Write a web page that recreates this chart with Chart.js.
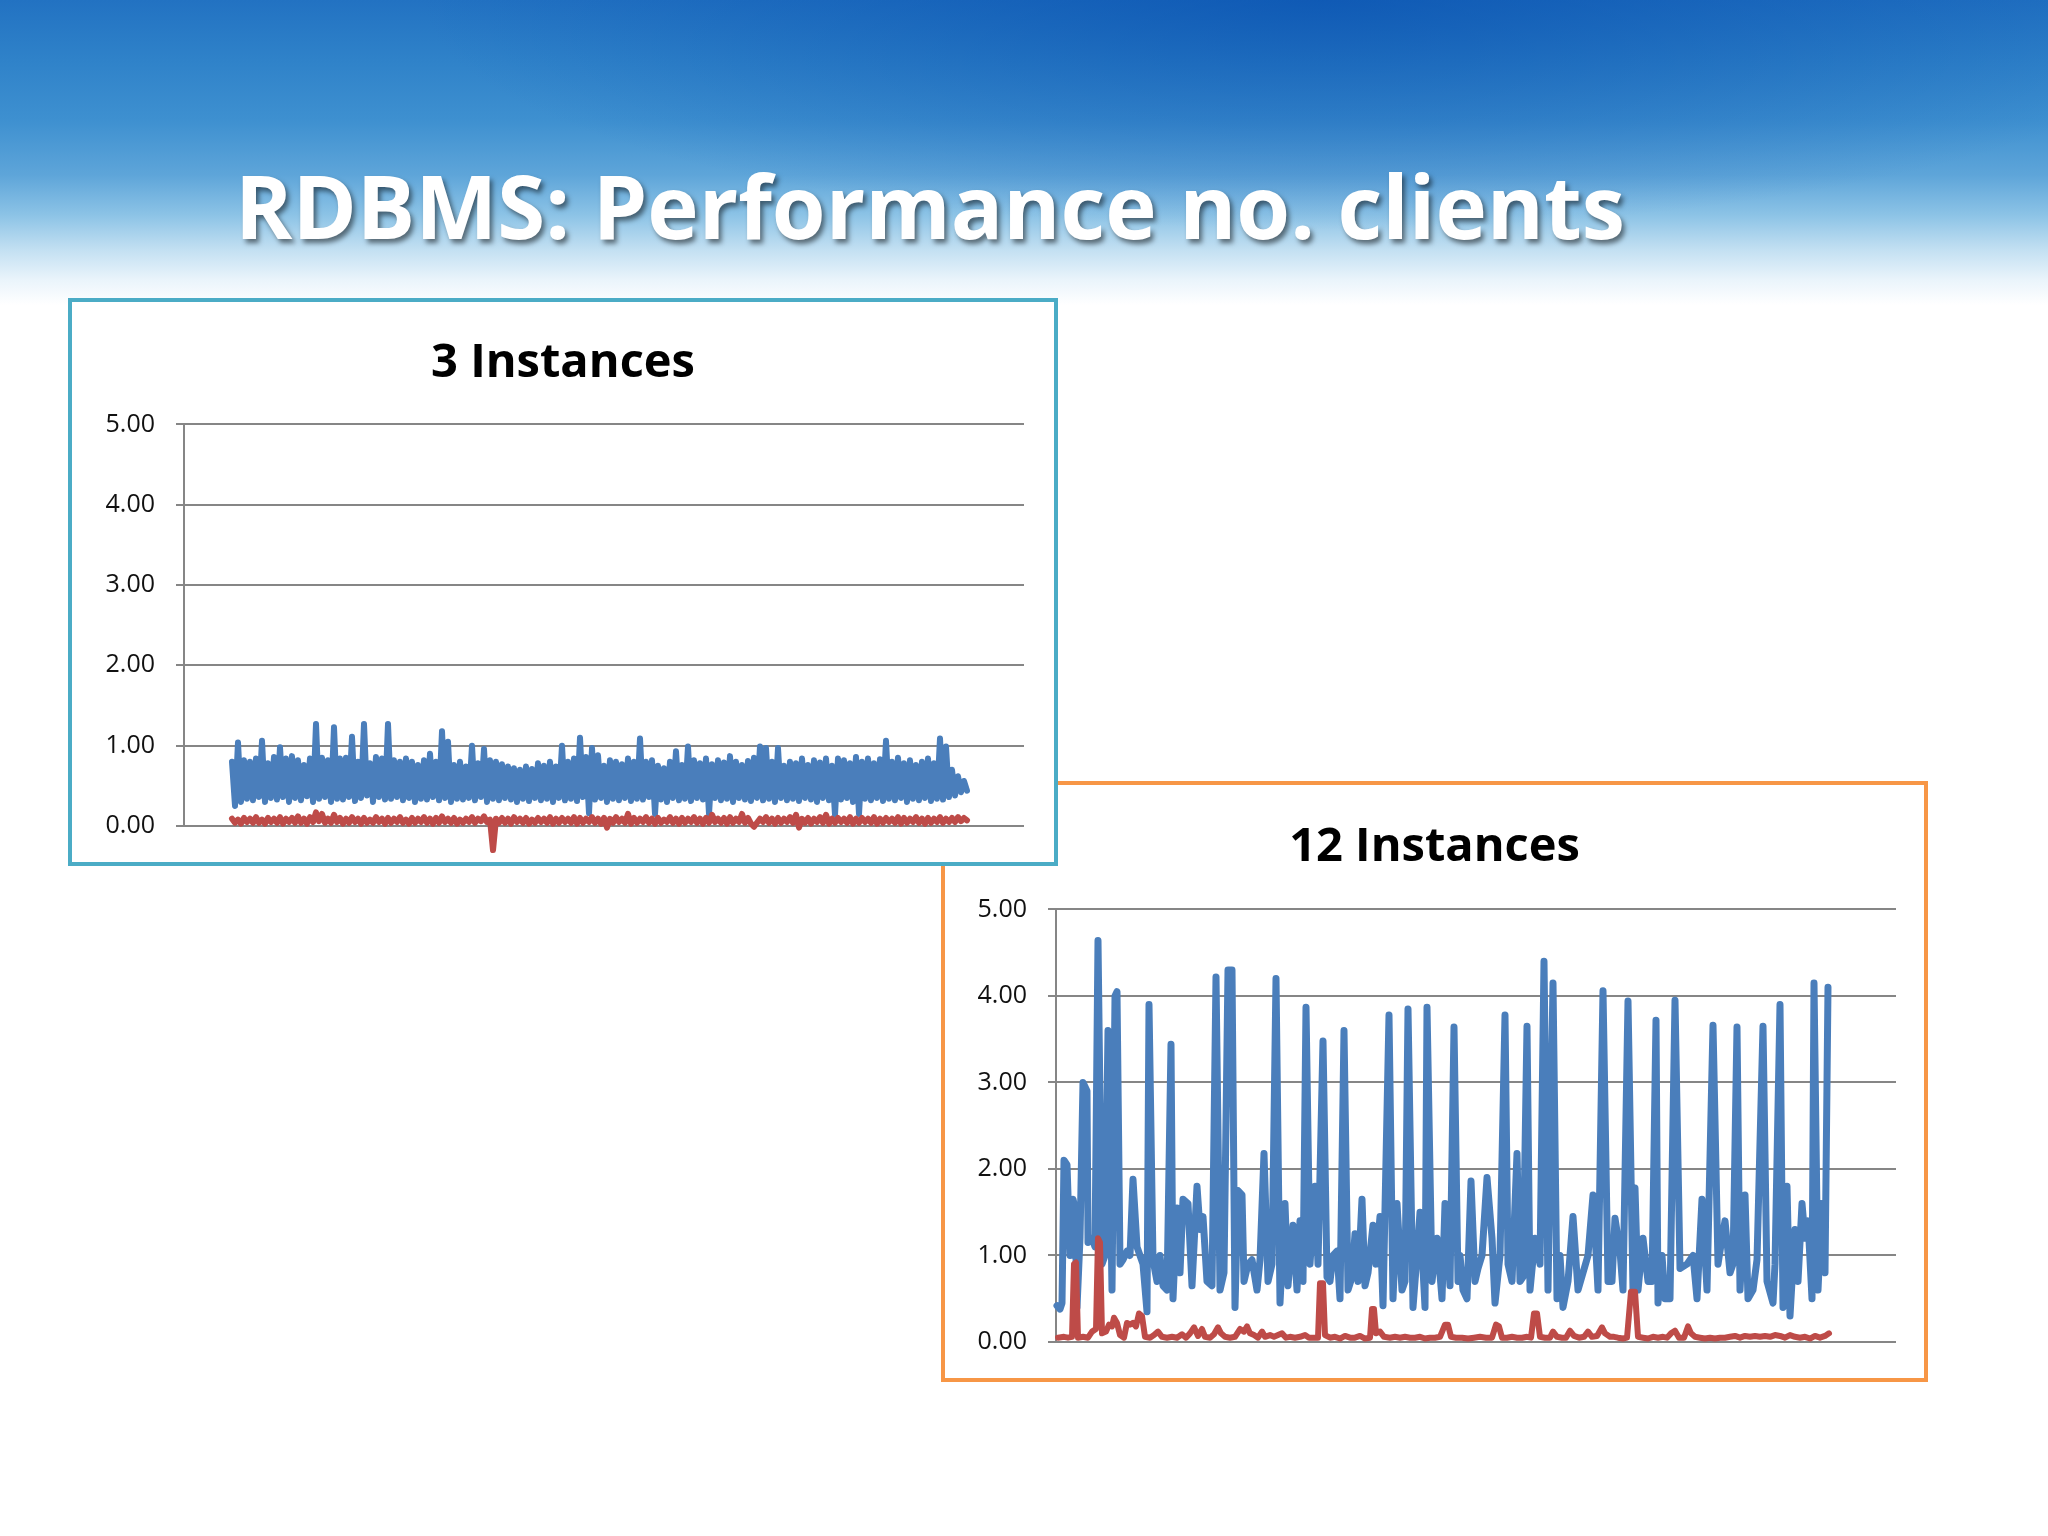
<!DOCTYPE html>
<html>
<head>
<meta charset="utf-8">
<title>RDBMS: Performance no. clients</title>
<script src="https://cdn.jsdelivr.net/npm/chart.js@4.4.1/dist/chart.umd.min.js"></script>
<style>
  html, body { margin: 0; padding: 0; }
  body {
    width: 2048px; height: 1536px; position: relative; overflow: hidden;
    background: #fff; font-family: 'Open Sans', sans-serif;
  }
  #sky {
    position: absolute; left: 0; top: 0; width: 2048px; height: 340px;
    background:
      radial-gradient(ellipse 900px 230px at 1320px 0px, rgba(0, 70, 170, 0.55), rgba(0, 70, 170, 0)),
      linear-gradient(180deg, #2272c2 0px, #2f82c9 60px, #3e90d0 120px, #5ea5d9 175px, #8cc3e6 215px, #c3e0f2 250px, #eaf4fb 280px, #ffffff 305px);
  }
  #title {
    position: absolute; left: 235px; top: 162px; white-space: nowrap;
    font: bold 87px/87px 'Open Sans', sans-serif; color: #fff;
    text-shadow: 3px 4px 5px rgba(0, 0, 0, 0.5);
  }
  .box { position: absolute; box-sizing: border-box; background: #fff; }
  #box3 { left: 68px; top: 298px; width: 990px; height: 568px; border: 4px solid #4BACC6; z-index: 2; }
  #box12 { left: 941px; top: 781px; width: 987px; height: 601px; border: 4px solid #F79646; z-index: 1; }
  canvas { display: block; }
</style>
</head>
<body>
<div id="sky"></div>
<div id="title">RDBMS: Performance no. clients</div>
<div class="box" id="box3"><canvas id="chart3" width="982" height="560"></canvas></div>
<div class="box" id="box12"><canvas id="chart12" width="979" height="593"></canvas></div>
<script>
// y axis ticks shared by both charts
const yTicks = [0, 1, 2, 3, 4, 5];

// 3 instances: one sample every step, response time (blue) and the other series (red)
const blue3 = [
  0.8, 0.25, 1.04, 0.3, 0.82, 0.34, 0.8, 0.32, 0.84, 0.36,
  1.06, 0.3, 0.78, 0.35, 0.86, 0.33, 0.98, 0.36, 0.84, 0.3,
  0.87, 0.35, 0.82, 0.32, 0.76, 0.37, 0.84, 0.3, 1.27, 0.34,
  0.85, 0.36, 0.82, 0.3, 1.23, 0.34, 0.84, 0.33, 0.85, 0.36,
  1.11, 0.31, 0.8, 0.35, 1.27, 0.38, 0.78, 0.3, 0.86, 0.36,
  0.84, 0.33, 1.27, 0.34, 0.82, 0.36, 0.8, 0.32, 0.84, 0.35,
  0.8, 0.3, 0.76, 0.34, 0.82, 0.33, 0.9, 0.36, 0.8, 0.32,
  1.18, 0.35, 1.05, 0.3, 0.76, 0.34, 0.8, 0.33, 0.74, 0.35,
  1.0, 0.32, 0.78, 0.36, 0.96, 0.3, 0.82, 0.34, 0.8, 0.32,
  0.77, 0.35, 0.74, 0.33, 0.72, 0.3, 0.7, 0.34, 0.74, 0.31,
  0.71, 0.35, 0.78, 0.32, 0.75, 0.34, 0.8, 0.3, 0.74, 0.35,
  1.0, 0.32, 0.8, 0.34, 0.84, 0.31, 1.1, 0.36, 0.86, 0.16,
  0.97, 0.33, 0.88, 0.35, 0.75, 0.3, 0.82, 0.34, 0.8, 0.32,
  0.77, 0.35, 0.84, 0.31, 0.8, 0.34, 1.09, 0.33, 0.8, 0.36,
  0.82, 0.15, 0.75, 0.33, 0.72, 0.3, 0.8, 0.35, 0.93, 0.32,
  0.76, 0.34, 0.99, 0.31, 0.82, 0.35, 0.78, 0.33, 0.84, 0.15,
  0.77, 0.35, 0.82, 0.32, 0.79, 0.34, 0.87, 0.3, 0.8, 0.35,
  0.76, 0.33, 0.81, 0.31, 0.85, 0.35, 0.99, 0.32, 0.97, 0.34,
  0.8, 0.3, 0.97, 0.35, 0.75, 0.32, 0.8, 0.34, 0.78, 0.31,
  0.84, 0.35, 0.76, 0.33, 0.82, 0.3, 0.79, 0.35, 0.84, 0.32,
  0.75, 0.14, 0.84, 0.33, 0.82, 0.35, 0.78, 0.3, 0.86, 0.15,
  0.8, 0.34, 0.84, 0.32, 0.78, 0.35, 0.83, 0.31, 1.06, 0.34,
  0.8, 0.32, 0.85, 0.35, 0.78, 0.3, 0.82, 0.34, 0.76, 0.32,
  0.8, 0.35, 0.84, 0.31, 0.78, 0.34, 1.09, 0.33, 0.99, 0.36,
  0.7, 0.38, 0.62, 0.42, 0.56, 0.44
];
const red3 = [
  0.09, 0.04, 0.08, 0.03, 0.1, 0.05, 0.09, 0.04, 0.11, 0.04,
  0.08, 0.03, 0.1, 0.05, 0.09, 0.04, 0.11, 0.03, 0.09, 0.05,
  0.1, 0.04, 0.12, 0.04, 0.09, 0.03, 0.11, 0.05, 0.17, 0.06,
  0.15, 0.04, 0.09, 0.04, 0.14, 0.05, 0.1, 0.03, 0.09, 0.04,
  0.11, 0.05, 0.09, 0.03, 0.1, 0.04, 0.08, 0.04, 0.11, 0.05,
  0.09, 0.03, 0.1, 0.04, 0.09, 0.05, 0.11, 0.04, 0.08, 0.03,
  0.1, 0.04, 0.09, 0.05, 0.11, 0.04, 0.09, 0.03, 0.1, 0.04,
  0.12, 0.05, 0.09, 0.04, 0.1, 0.03, 0.08, 0.04, 0.09, 0.05,
  0.11, 0.04, 0.09, 0.06, 0.12, 0.05, 0.08, -0.3, 0.09, 0.04,
  0.1, 0.04, 0.09, 0.03, 0.11, 0.05, 0.09, 0.04, 0.1, 0.03,
  0.08, 0.04, 0.1, 0.05, 0.09, 0.04, 0.11, 0.03, 0.09, 0.04,
  0.1, 0.05, 0.09, 0.04, 0.11, 0.03, 0.1, 0.04, 0.09, 0.05,
  0.11, 0.04, 0.09, 0.03, 0.1, -0.02, 0.09, 0.04, 0.11, 0.05,
  0.09, 0.04, 0.15, 0.03, 0.1, 0.04, 0.09, 0.05, 0.11, 0.04,
  0.09, 0.03, 0.1, 0.04, 0.08, 0.05, 0.11, 0.04, 0.09, 0.03,
  0.1, 0.04, 0.09, 0.05, 0.11, 0.04, 0.09, 0.03, 0.1, 0.04,
  0.14, 0.05, 0.09, 0.04, 0.1, 0.03, 0.11, 0.04, 0.09, 0.05,
  0.15, 0.04, 0.1, 0.03, -0.01, 0.04, 0.09, 0.05, 0.11, 0.04,
  0.09, 0.03, 0.1, 0.04, 0.09, 0.05, 0.11, 0.04, 0.14, -0.02,
  0.09, 0.04, 0.1, 0.03, 0.09, 0.05, 0.11, 0.04, 0.14, 0.03,
  0.09, 0.04, 0.1, 0.05, 0.09, 0.04, 0.11, 0.03, 0.09, 0.04,
  0.1, 0.05, 0.09, 0.04, 0.11, 0.03, 0.09, 0.04, 0.1, 0.05,
  0.09, 0.04, 0.11, 0.03, 0.1, 0.04, 0.09, 0.05, 0.11, 0.04,
  0.09, 0.03, 0.1, 0.04, 0.09, 0.05, 0.11, 0.04, 0.09, 0.05,
  0.1, 0.05, 0.11, 0.06, 0.1, 0.07
];

// 12 instances: sample time (s) and values
const t12 = [
  1, 4, 6, 8, 11, 14, 17, 19, 21, 24, 27, 31, 32, 36, 39, 42, 46, 49, 52, 56,
  59, 61, 64, 67, 71, 74, 77, 81, 84, 87, 91, 93, 97, 101, 104, 107, 111, 115, 117, 121,
  124, 127, 132, 136, 141, 144, 147, 151, 156, 160, 164, 168, 172, 176, 179, 182, 186, 188, 192, 196,
  201, 204, 208, 212, 216, 220, 224, 229, 232, 237, 241, 244, 247, 250, 254, 259, 262, 267, 271, 274,
  277, 281, 284, 288, 292, 296, 299, 302, 306, 309, 312, 317, 320, 324, 327, 333, 337, 341, 346, 349,
  352, 357, 361, 364, 369, 371, 376, 381, 386, 389, 394, 398, 402, 404, 407, 411, 415, 419, 422, 426,
  431, 436, 439, 444, 449, 452, 456, 461, 464, 467, 471, 474, 479, 484, 488, 492, 497, 501, 504, 507,
  512, 517, 522, 527, 532, 537, 542, 547, 552, 556, 559, 564, 567, 572, 577, 579, 582, 587, 592, 596,
  600, 602, 606, 609, 614, 619, 624, 631, 637, 641, 646, 651, 657, 662, 666, 669, 674, 677, 681, 684,
  689, 692, 697, 701, 707, 711, 717, 719, 724, 727, 731, 734, 739, 742, 746, 749, 752, 756, 758, 762,
  766, 769, 772
];
const blue12 = [
  0.42, 0.38, 0.45, 2.1, 2.05, 1.0, 1.65, 1.55, 0.4, 1.2, 3.0, 2.9, 1.15, 1.2, 1.1, 4.64, 0.9, 1.0, 3.6, 0.6,
  4.0, 4.05, 0.9, 0.95, 1.05, 1.0, 1.88, 1.1, 1.0, 0.9, 0.35, 3.9, 0.95, 0.7, 1.0, 0.65, 0.6, 3.44, 0.5, 1.55,
  0.8, 1.65, 1.6, 0.65, 1.8, 1.3, 1.45, 0.7, 0.65, 4.22, 0.6, 0.8, 4.3, 4.3, 0.4, 1.75, 1.7, 0.7, 0.9, 0.95,
  0.6, 0.95, 2.18, 0.7, 0.9, 4.2, 0.45, 1.6, 0.65, 1.35, 0.6, 1.4, 0.7, 3.87, 0.9, 1.8, 0.9, 3.48, 0.75, 0.7,
  1.0, 1.05, 0.5, 3.6, 0.6, 0.75, 1.25, 0.7, 1.65, 0.65, 0.8, 1.35, 0.9, 1.45, 0.42, 3.78, 0.5, 1.6, 0.6, 0.7,
  3.85, 0.4, 1.0, 1.5, 0.4, 3.87, 0.7, 1.2, 0.5, 1.6, 0.65, 3.64, 0.7, 1.0, 0.6, 0.5, 1.86, 0.7, 0.85, 1.0,
  1.9, 1.2, 0.45, 1.0, 3.78, 0.9, 0.7, 2.18, 0.7, 0.75, 3.65, 0.6, 1.2, 0.9, 4.4, 0.6, 4.15, 0.5, 1.0, 0.4,
  0.7, 1.45, 0.6, 0.8, 1.0, 1.7, 0.6, 4.06, 0.7, 0.7, 1.43, 1.05, 0.6, 3.94, 0.6, 1.78, 0.6, 1.2, 0.7, 0.7,
  3.72, 0.45, 1.0, 0.5, 0.5, 3.95, 0.85, 0.9, 1.0, 0.5, 1.65, 0.6, 3.66, 0.9, 1.2, 1.4, 0.8, 0.9, 3.64, 0.6,
  1.7, 0.5, 0.6, 0.95, 3.65, 0.7, 0.45, 0.9, 3.9, 0.4, 1.8, 0.3, 1.3, 0.7, 1.6, 1.2, 1.4, 0.5, 4.15, 0.6,
  1.6, 0.8, 4.1
];
const redT12 = [
  2, 8, 12, 16, 18, 20, 22, 27, 32, 36, 40, 42, 44, 46, 50, 53, 56, 58, 61, 64,
  68, 71, 74, 77, 80, 83, 86, 89, 94, 98, 102, 106, 111, 116, 121, 126, 130, 134, 138, 142,
  146, 149, 154, 158, 162, 165, 169, 174, 179, 184, 188, 191, 194, 198, 202, 206, 209, 214, 218, 222,
  226, 230, 234, 239, 244, 249, 253, 258, 262, 264, 267, 269, 274, 279, 284, 289, 294, 299, 304, 309,
  314, 316, 318, 320, 324, 328, 334, 339, 344, 349, 354, 359, 364, 369, 374, 379, 384, 389, 392, 395,
  400, 406, 412, 418, 424, 430, 436, 440, 443, 446, 451, 456, 461, 466, 471, 475, 478, 481, 484, 489,
  494, 497, 501, 506, 510, 514, 518, 523, 528, 532, 536, 541, 546, 549, 554, 558, 562, 567, 571, 575,
  579, 582, 587, 592, 597, 602, 607, 611, 615, 619, 623, 628, 632, 635, 639, 644, 649, 654, 659, 664,
  669, 674, 679, 684, 689, 694, 699, 704, 709, 714, 719, 724, 729, 734, 739, 744, 749, 754, 759, 764,
  769, 773
];
const red12 = [
  0.05, 0.06, 0.05, 0.06, 0.9, 0.92, 0.05, 0.06, 0.05, 0.12, 0.15, 1.2, 1.15, 0.1, 0.12, 0.2, 0.18, 0.28, 0.22, 0.08,
  0.05, 0.22, 0.2, 0.22, 0.18, 0.33, 0.3, 0.06, 0.05, 0.08, 0.12, 0.06, 0.05, 0.06, 0.05, 0.09, 0.05, 0.1, 0.17, 0.07,
  0.15, 0.06, 0.05, 0.09, 0.17, 0.1, 0.06, 0.05, 0.06, 0.15, 0.12, 0.18, 0.1, 0.08, 0.05, 0.12, 0.06, 0.08, 0.06, 0.08,
  0.1, 0.05, 0.06, 0.05, 0.06, 0.08, 0.05, 0.05, 0.05, 0.68, 0.68, 0.08, 0.05, 0.06, 0.04, 0.07, 0.05, 0.05, 0.07, 0.04,
  0.05, 0.38, 0.38, 0.1, 0.12, 0.06, 0.05, 0.06, 0.05, 0.06, 0.05, 0.05, 0.06, 0.04, 0.05, 0.05, 0.06, 0.2, 0.2, 0.06,
  0.05, 0.05, 0.04, 0.05, 0.06, 0.05, 0.05, 0.2, 0.18, 0.05, 0.05, 0.06, 0.05, 0.05, 0.06, 0.05, 0.33, 0.33, 0.06, 0.05,
  0.05, 0.12, 0.06, 0.05, 0.05, 0.13, 0.07, 0.05, 0.06, 0.12, 0.06, 0.07, 0.17, 0.1, 0.06, 0.06, 0.05, 0.04, 0.05, 0.58,
  0.58, 0.06, 0.05, 0.04, 0.06, 0.05, 0.06, 0.05, 0.1, 0.13, 0.05, 0.05, 0.18, 0.1, 0.06, 0.05, 0.04, 0.05, 0.04, 0.05,
  0.05, 0.06, 0.07, 0.05, 0.07, 0.06, 0.07, 0.06, 0.07, 0.06, 0.08, 0.07, 0.05, 0.08, 0.06, 0.05, 0.06, 0.04, 0.07, 0.05,
  0.07, 0.1
];

const BLUE = '#4A7EBB';
const RED = '#BE4B48';
const GRID = '#868686';

function lineSet(points, color, width, order) {
  return {
    data: points,
    borderColor: color,
    backgroundColor: color,
    borderWidth: width,
    pointRadius: 0,
    tension: 0,
    borderJoinStyle: 'round',
    borderCapStyle: 'round',
    clip: false,
    order: order,
  };
}

function makeChart(id, title, datasets, xMin, xMax, pad) {
  return new Chart(document.getElementById(id), {
    type: 'line',
    data: { datasets: datasets },
    options: {
      responsive: false,
      animation: false,
      events: [],
      // equal side padding keeps the title centred on the whole box
      layout: { padding: { left: pad.side, top: 0, right: pad.side, bottom: pad.bottom } },
      plugins: {
        legend: { display: false },
        tooltip: { enabled: false },
        title: {
          display: true,
          text: title,
          color: '#000',
          font: { family: "'Open Sans', sans-serif", size: 47, weight: 'bold' },
          padding: { top: pad.titleTop, bottom: pad.titleBottom },
        },
      },
      scales: {
        x: { type: 'linear', min: xMin, max: xMax, display: false },
        y: {
          min: yTicks[0],
          max: yTicks[yTicks.length - 1],
          afterFit: (s) => { s.width = pad.axis; },
          afterBuildTicks: (s) => { s.ticks = yTicks.map((v) => ({ value: v })); },
          ticks: {
            color: '#111',
            padding: 21,
            font: { family: "'Open Sans', sans-serif", size: 25 },
            callback: (v) => Number(v).toFixed(2),
          },
          grid: { color: GRID, lineWidth: 2, tickLength: 8 },
          border: { color: GRID, width: 2 },
        },
      },
    },
  });
}

// 3 instances
makeChart('chart3', '3 Instances', [
  lineSet(red3.map((v, i) => ({ x: i, y: v })), RED, 6, 0),
  lineSet(blue3.map((v, i) => ({ x: i, y: v })), BLUE, 6, 1),
], -16, 264, { side: 30, bottom: 31, titleTop: 33, titleBottom: 33, axis: 82 });

// 12 instances
makeChart('chart12', '12 Instances', [
  lineSet(redT12.map((t, i) => ({ x: t, y: red12[i] })), RED, 6, 0),
  lineSet(t12.map((t, i) => ({ x: t, y: blue12[i] })), BLUE, 7, 1),
], 0, 840, { side: 28, bottom: 31, titleTop: 34, titleBottom: 34, axis: 83 });
</script>
</body>
</html>
